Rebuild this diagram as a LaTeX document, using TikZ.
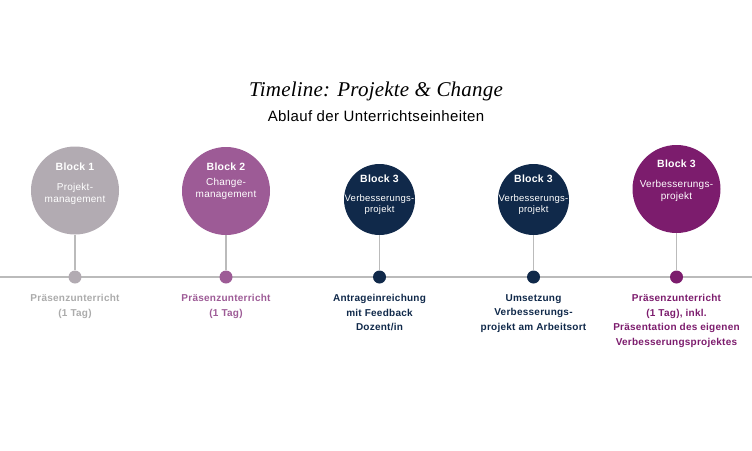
\documentclass[tikz,border=0pt]{standalone}
\usepackage{fontspec}
\setmainfont{Liberation Sans}[LetterSpace=2.5]
\newfontfamily\titlefont{Liberation Serif}[LetterSpace=1]
\definecolor{blockgrey}{HTML}{B2ABB2}
\definecolor{mauve}{HTML}{9D5B96}
\definecolor{navy}{HTML}{10294A}
\definecolor{plum}{HTML}{7C1C6D}
\definecolor{linegrey}{HTML}{BBBBBB}
\definecolor{labelgrey}{HTML}{ABABAB}
\begin{document}
\begin{tikzpicture}[x=1pt,y=-1pt,
        bigblock/.style={circle,minimum size=88pt,inner sep=0pt},
        smallblock/.style={circle,minimum size=71pt,inner sep=0pt},
        blocktext/.style={anchor=north,align=center,text=white,inner sep=0pt,font=\fontsize{10}{12}\selectfont},
        dot/.style={circle,minimum size=13pt,inner sep=0pt},
        stem/.style={draw=linegrey,line width=1.5pt},
        caption/.style={anchor=north,align=center,inner sep=0pt,font=\bfseries\fontsize{10}{14.7}\selectfont},
        ]
    \useasboundingbox (0,0) rectangle (752,450);
    \node (title) [anchor=base,font=\titlefont\itshape\fontsize{21}{24}\selectfont] at (376,96) {Timeline: Projekte \& Change};
    \node (subtitle) [anchor=base,font=\fontsize{15}{18}\selectfont] at (376,121.5) {Ablauf der Unterrichtseinheiten};
    % time axis
    \coordinate (start) at (0,277);
    \coordinate (end) at (752,277);
    \draw [linegrey, line width=2pt] (start) -- (end);
    % blocks
    \node (c1) [bigblock, fill=blockgrey] at (75,190.5) {};
    \node (c2) [bigblock, fill=mauve] at (226,191) {};
    \node (c3) [smallblock, fill=navy] at (379.5,199.5) {};
    \node (c4) [smallblock, fill=navy] at (533.5,199.5) {};
    \node (c5) [bigblock, fill=plum] at (676.5,189) {};
    \node (t1) [blocktext] at ([yshift=28pt]c1.center) {{\bfseries\fontsize{10.5}{12}\selectfont Block 1}\\[8pt]Projekt-\\management};
    \node (t2) [blocktext] at ([yshift=28.5pt]c2.center) {{\bfseries\fontsize{10.5}{12}\selectfont Block 2}\\[3pt]Change-\\management};
    \node (t3) [blocktext, font=\fontsize{9.5}{11.5}\selectfont] at ([yshift=25pt]c3.center) {{\bfseries\fontsize{10.5}{12}\selectfont Block 3}\\[7.5pt]Verbesserungs-\\projekt};
    \node (t4) [blocktext, font=\fontsize{9.5}{11.5}\selectfont] at ([yshift=25pt]c4.center) {{\bfseries\fontsize{10.5}{12}\selectfont Block 3}\\[7.5pt]Verbesserungs-\\projekt};
    \node (t5) [blocktext] at ([yshift=29pt]c5.center) {{\bfseries\fontsize{10.5}{12}\selectfont Block 3}\\[8pt]Verbesserungs-\\projekt};
    % dots on the axis
    \node (d1) [dot, fill=blockgrey] at (75,277) {};
    \node (d2) [dot, fill=mauve] at (226,277) {};
    \node (d3) [dot, fill=navy] at (379.5,277) {};
    \node (d4) [dot, fill=navy] at (533.5,277) {};
    \node (d5) [dot, fill=plum] at (676.5,277) {};
    \draw [stem] (c1) -- (d1);
    \draw [stem] (c2) -- (d2);
    \draw [stem] (c3) -- (d3);
    \draw [stem] (c4) -- (d4);
    \draw [stem] (c5) -- (d5);
    % captions
    \node (l1) [caption, text=labelgrey] at (75,294) {Präsenzunterricht\\(1 Tag)};
    \node (l2) [caption, text=mauve] at (226,294) {Präsenzunterricht\\(1 Tag)};
    \node (l3) [caption, text=navy] at (379.5,294) {Antrageinreichung\\mit Feedback\\Dozent/in};
    \node (l4) [caption, text=navy] at (533.5,294) {Umsetzung\\Verbesserungs-\\projekt am Arbeitsort};
    \node (l5) [caption, text=plum] at (676.5,294) {Präsenzunterricht\\(1 Tag), inkl.\\Präsentation des eigenen\\Verbesserungsprojektes};
\end{tikzpicture}
\end{document}
